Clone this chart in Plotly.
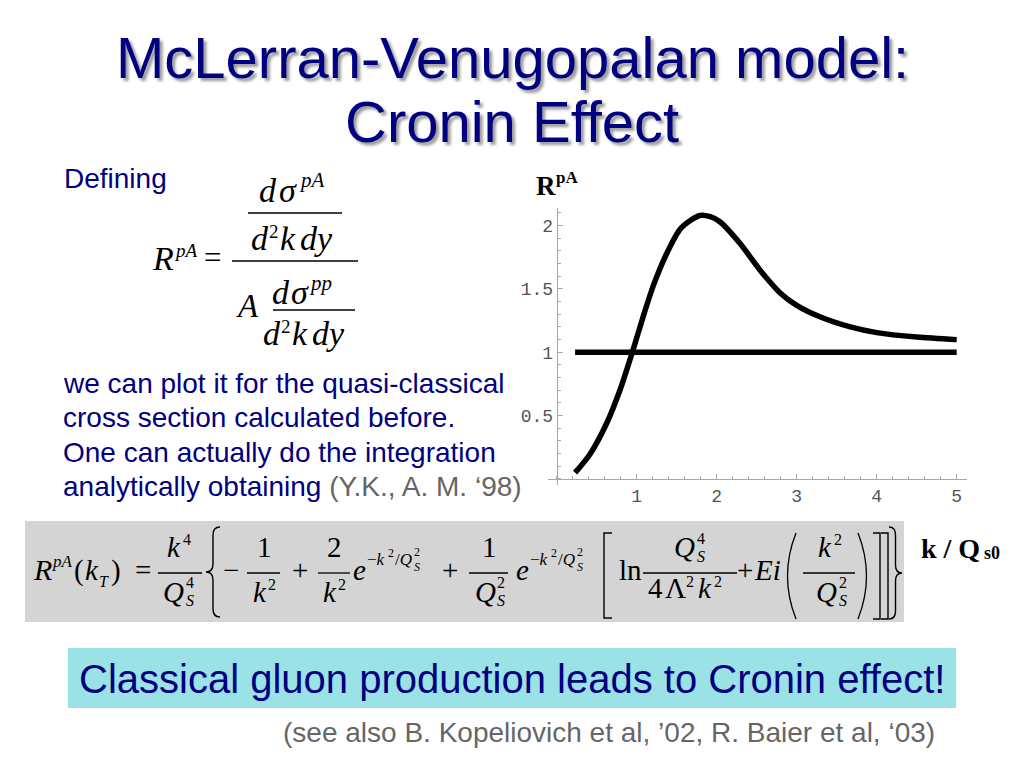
import plotly.graph_objects as go

# ---------------- data ----------------
k_over_qs = [0.23, 0.42, 0.625, 0.79, 0.945, 1.08, 1.21, 1.375, 1.54, 1.67, 1.79,
             1.92, 2.04, 2.29, 2.54, 2.79, 3.0, 3.29, 3.67, 4.0, 4.5, 5.0]
r_pa = [0.05, 0.20, 0.44, 0.70, 1.0, 1.28, 1.53, 1.78, 1.97, 2.04, 2.08,
        2.07, 2.03, 1.86, 1.65, 1.47, 1.37, 1.28, 1.20, 1.155, 1.12, 1.10]
ref_k = [0.23, 5.0]
ref_r = [1.0, 1.0]
x_tick_vals = [1, 2, 3, 4, 5]
y_tick_vals = [0.5, 1, 1.5, 2]

title_lines = ["McLerran-Venugopalan model:", "Cronin Effect"]
body_lines = ["we can plot it for the quasi-classical",
              "cross section calculated before.",
              "One can actually do the integration",
              "analytically obtaining"]
body_cite = "(Y.K., A. M. \u201898)"
banner_text = "Classical gluon production leads to Cronin effect!"
footnote = "(see also B. Kopeliovich et al, \u201902, R. Baier et al, \u201803)"

# ---------------- helpers ----------------
# the page body has an 8px margin, so the figure is drawn 8px in from the corner
OFF = 8
FW, FH = 1024 - 2 * OFF, 768 - 2 * OFF
SERIF = "Liberation Serif"
SANS = "Liberation Sans"
NAVY = "#000080"
GRAY = "#666666"


def X(px):
    return (px - OFF) / FW


def Y(py):
    return 1 - (py - OFF) / FH


annotations = []
shapes = []


def tb(x, base, text, size, family=SERIF, color="black", xanchor="center",
       italic=False, bold=False, shadow=None, asc=0.34):
    s = text
    if italic:
        s = "<i>" + s + "</i>"
    if bold:
        s = "<b>" + s + "</b>"
    font = dict(size=size, color=color, family=family)
    if shadow:
        font["shadow"] = shadow
    annotations.append(dict(x=X(x), y=Y(base - asc * size), xref="paper", yref="paper",
                            text=s, showarrow=False, xanchor=xanchor, yanchor="middle",
                            font=font, borderpad=0))


def hline(x0, x1, y, w=1.3):
    shapes.append(dict(type="line", xref="paper", yref="paper", x0=X(x0), x1=X(x1),
                       y0=Y(y), y1=Y(y), line=dict(color="black", width=w)))


def rect(x0, y0, x1, y1, fill):
    shapes.append(dict(type="rect", xref="paper", yref="paper", x0=X(x0), x1=X(x1),
                       y0=Y(y0), y1=Y(y1), fillcolor=fill, line=dict(width=0), layer="below"))


def path(cmds, w=1.4):
    parts = []
    for c, pts in cmds:
        parts.append(c + " " + " ".join(f"{X(px):.5f},{Y(py):.5f}" for px, py in pts))
    shapes.append(dict(type="path", xref="paper", yref="paper", path=" ".join(parts),
                       line=dict(color="black", width=w)))


def lbrace(xl, xr, top, bot, d=8):
    xm, mid = (xl + xr) / 2, (top + bot) / 2
    path([("M", [(xr, top)]), ("Q", [(xm, top), (xm, top + d)]), ("L", [(xm, mid - d)]),
          ("Q", [(xm, mid), (xl, mid)]), ("Q", [(xm, mid), (xm, mid + d)]),
          ("L", [(xm, bot - d)]), ("Q", [(xm, bot), (xr, bot)])])


def rbrace(xl, xr, top, bot, d=8):
    xm, mid = (xl + xr) / 2, (top + bot) / 2
    path([("M", [(xl, top)]), ("Q", [(xm, top), (xm, top + d)]), ("L", [(xm, mid - d)]),
          ("Q", [(xm, mid), (xr, mid)]), ("Q", [(xm, mid), (xm, mid + d)]),
          ("L", [(xm, bot - d)]), ("Q", [(xm, bot), (xl, bot)])])


def lbrack(xl, xr, top, bot):
    path([("M", [(xr, top)]), ("L", [(xl, top)]), ("L", [(xl, bot)]), ("L", [(xr, bot)])])


def rbrack(xl, xr, top, bot):
    path([("M", [(xl, top)]), ("L", [(xr, top)]), ("L", [(xr, bot)]), ("L", [(xl, bot)])])


def lparen(xl, xr, top, bot):
    path([("M", [(xr, top)]), ("Q", [(xl - 4, (top + bot) / 2), (xr, bot)])], w=1.3)


def rparen(xl, xr, top, bot):
    path([("M", [(xl, top)]), ("Q", [(xr + 4, (top + bot) / 2), (xl, bot)])], w=1.3)


# ---------------- slide text ----------------
SH = "3px 3px 3px #9a9a9a"
tb(512, 77, title_lines[0], 58, family=SANS, color=NAVY, shadow=SH)
tb(512, 141, title_lines[1], 58, family=SANS, color=NAVY, shadow=SH)

tb(63, 188, "Defining", 28, family=SANS, color=NAVY, xanchor="left")
for i, ln in enumerate(body_lines):
    txt = ln
    if i == 3:
        txt = ln + ' <span style="color:#666666">' + body_cite + "</span>"
    tb(62, 393 + 34.3 * i, txt, 28, family=SANS, color=NAVY, xanchor="left")

# banner
rect(68, 648, 956, 708, "#9be2e7")
tb(512, 693, banner_text, 40, family=SANS, color=NAVY)
tb(936, 742, footnote, 28, family=SANS, color=GRAY, xanchor="right")

# ---------------- definition formula ----------------
F, f = 34, 21
tb(151, 270, "R", 34, italic=True, xanchor="left")
tb(173, 257, "pA", 19, italic=True, xanchor="left")
tb(212, 268, "=", 31)
hline(232, 358, 261)
# numerator
tb(258, 202, "d", F, italic=True, xanchor="left")
tb(278, 202, "\u03c3", F, italic=True, xanchor="left")
tb(298, 187, "pA", f, italic=True, xanchor="left")
hline(248, 342, 213)
tb(250, 250, "d", F, italic=True, xanchor="left")
tb(268, 238, "2", 19, xanchor="left")
tb(279, 250, "k", F, italic=True, xanchor="left")
tb(299, 250, "dy", F, italic=True, xanchor="left")
# denominator
tb(235, 317, "A", 33, italic=True, xanchor="left")
tb(271, 304, "d", F, italic=True, xanchor="left")
tb(290, 304, "\u03c3", F, italic=True, xanchor="left")
tb(308, 290, "pp", f, italic=True, xanchor="left")
hline(273, 355, 310)
tb(262, 345, "d", F, italic=True, xanchor="left")
tb(280, 333, "2", 19, xanchor="left")
tb(291, 345, "k", F, italic=True, xanchor="left")
tb(311, 345, "dy", F, italic=True, xanchor="left")

# ---------------- analytic formula (grey box) ----------------
rect(25, 521, 904, 622, "#d4d4d4")
S, s, e = 29, 16, 12
B, NUM, DEN = 580, 557, 602
BAR = 573
tb(32, B, "R", 30, italic=True, xanchor="left")
tb(51, 567, "pA", 17, italic=True, xanchor="left")
tb(73, B, "(", S, xanchor="left")
tb(84, B, "k", S, italic=True, xanchor="left")
tb(98, 587, "T", s, italic=True, xanchor="left")
tb(110, B, ")", S, xanchor="left")
tb(143, B, "=", S)
# k^4 / Q_S^4
hline(158, 202, BAR)
tb(174, NUM, "k", S, italic=True)
tb(182, 545, "4", s, xanchor="left")
tb(173, DEN, "Q", S, italic=True)
tb(185, 588, "4", s, xanchor="left")
tb(185, 606, "S", s, italic=True, xanchor="left")
lbrace(206, 220, 527, 617)
tb(231, B, "\u2212", S)
# 1/k^2
hline(247, 280, BAR)
tb(264, NUM, "1", S)
tb(260, DEN, "k", S, italic=True)
tb(267, 590, "2", s, xanchor="left")
tb(300, B, "+", S)
# 2/k^2
hline(318, 350, BAR)
tb(334, NUM, "2", S)
tb(330, DEN, "k", S, italic=True)
tb(337, 590, "2", s, xanchor="left")


def expo(x0):
    tb(x0, B, "e", S, italic=True, xanchor="left")
    tb(x0 + 14, 565, "\u2212<i>k</i>", 17, xanchor="left")
    tb(x0 + 35, 557, "2", e, xanchor="left")
    tb(x0 + 42, 565, "/<i>Q</i>", 17, xanchor="left")
    tb(x0 + 61, 556, "2", e, xanchor="left")
    tb(x0 + 61, 571, "S", e, italic=True, xanchor="left")


expo(352)
tb(450, B, "+", S)
# 1/Q_S^2
hline(469, 508, BAR)
tb(489, NUM, "1", S)
tb(485, DEN, "Q", S, italic=True)
tb(496, 588, "2", s, xanchor="left")
tb(496, 606, "S", s, italic=True, xanchor="left")
expo(515)
lbrack(604, 612, 533, 618)
tb(618, B, "ln", S, xanchor="left")
# Q_S^4 / (4 Lambda^2 k^2)
hline(643, 737, BAR)
tb(684, NUM, "Q", S, italic=True)
tb(696, 544, "4", s, xanchor="left")
tb(696, 562, "S", s, italic=True, xanchor="left")
tb(655, 598, "4", S)
tb(675, 598, "\u039b", S)
tb(685, 587, "2", s, xanchor="left")
tb(705, 598, "k", S, italic=True)
tb(713, 587, "2", s, xanchor="left")
tb(745, B, "+", S)
tb(753, B, "Ei", S, italic=True, xanchor="left")
lparen(783, 796, 533, 619)
# k^2 / Q_S^2
hline(803, 855, BAR)
tb(825, NUM, "k", S, italic=True)
tb(833, 545, "2", s, xanchor="left")
tb(826, DEN, "Q", S, italic=True)
tb(838, 588, "2", s, xanchor="left")
tb(838, 606, "S", s, italic=True, xanchor="left")
rparen(858, 871, 533, 619)
rbrack(873, 880, 533, 619)
rbrack(881, 888, 533, 619)
rbrace(889, 902, 527, 619)

# axis titles of the plot
tb(920, 558, "k / Q", 28, bold=True, xanchor="left")
tb(983, 559, "s0", 18, bold=True, xanchor="left")
tb(535, 195, "R", 27, bold=True, xanchor="left")
tb(555, 183, "pA", 17, bold=True, xanchor="left")

# ---------------- chart ----------------
fig = go.Figure()
fig.add_trace(go.Scatter(x=ref_k, y=ref_r, mode="lines",
                         line=dict(color="black", width=5.5), hoverinfo="skip"))
fig.add_trace(go.Scatter(x=k_over_qs, y=r_pa, mode="lines",
                         line=dict(color="black", width=5.5, shape="spline", smoothing=0.8),
                         hoverinfo="skip"))

AX = "#a8a8a8"
TICKFONT = dict(family="Liberation Mono", size=18, color="#555555")
px_per_x, x0_px = 80.0, 556.7
px_per_y, y0_px = 126.7, 479.0
xr = [-0.11, 5.125]
yr = [-0.047, 2.136]
fig.update_layout(
    width=FW, height=FH, margin=dict(l=0, r=0, t=0, b=0),
    paper_bgcolor="white", plot_bgcolor="rgba(0,0,0,0)", showlegend=False,
    xaxis=dict(range=xr, domain=[X(x0_px + xr[0] * px_per_x), X(x0_px + xr[1] * px_per_x)],
               anchor="free", position=Y(y0_px), showline=True, linecolor=AX, linewidth=1,
               showgrid=False, zeroline=False, tickvals=x_tick_vals, ticks="inside",
               ticklen=5, tickcolor=AX, tickfont=TICKFONT,
               minor=dict(ticks="inside", ticklen=3, tickcolor=AX, dtick=0.2, tick0=0,
                          showgrid=False)),
    yaxis=dict(range=yr, domain=[Y(y0_px - yr[0] * px_per_y), Y(y0_px - yr[1] * px_per_y)],
               anchor="free", position=X(x0_px), showline=True, linecolor=AX, linewidth=1,
               showgrid=False, zeroline=False, tickvals=y_tick_vals, ticks="inside",
               ticklen=5, tickcolor=AX, tickfont=TICKFONT,
               minor=dict(ticks="inside", ticklen=3, tickcolor=AX, dtick=0.1, tick0=0,
                          showgrid=False)),
    annotations=annotations, shapes=shapes,
)

fig.write_html("out.html")
